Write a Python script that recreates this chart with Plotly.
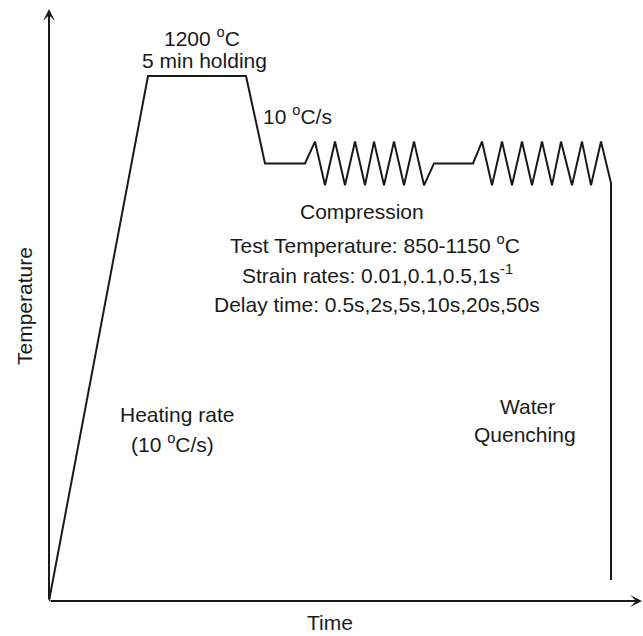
import plotly.graph_objects as go

# ---- data (arbitrary time units, temperature in degC) ----
time_pts = [0, 99, 197, 216, 256,
            266, 276, 286, 296, 306, 316, 325, 335, 345, 355, 365, 375,
            385, 424,
            433, 443, 453, 463, 473, 483, 493, 503, 512, 523, 533, 542, 552,
            562, 562]
temp_pts = [0, 1200, 1200, 1000, 1000,
            1050, 950, 1050, 950, 1050, 950, 1050, 950, 1050, 950, 1050, 950,
            1000, 1000,
            1050, 950, 1050, 950, 1050, 950, 1050, 950, 1050, 950, 1050, 950, 1050,
            955, 48]

x_max = 593
y_max = 1353

W, H = 643, 636
L, R, T, B = 49, 1, 9, 35
PW, PH = W - L - R, H - T - B

def px(x):
    return (x - L) / PW

def py(y):
    return (H - B - y) / PH

INK = "#1a1a1a"
FONT = "Liberation Sans, Arial, Helvetica, sans-serif"

fig = go.Figure()
fig.add_trace(go.Scatter(x=time_pts, y=temp_pts, mode="lines",
                         line=dict(color=INK, width=2),
                         cliponaxis=False, hoverinfo="skip", showlegend=False))

annotations = []
# axis arrows
annotations.append(dict(x=0, y=y_max, ax=0, ay=0, xref="x", yref="y", axref="x", ayref="y",
                        showarrow=True, arrowhead=3, arrowsize=1, arrowwidth=2,
                        arrowcolor=INK, text=""))
annotations.append(dict(x=x_max, y=0, ax=0, ay=0, xref="x", yref="y", axref="x", ayref="y",
                        showarrow=True, arrowhead=3, arrowsize=1, arrowwidth=2,
                        arrowcolor=INK, text=""))

def label(text, x, y, xanchor="center", angle=0):
    annotations.append(dict(text=text, x=px(x), y=py(y), xref="paper", yref="paper",
                            xanchor=xanchor, yanchor="middle", showarrow=False,
                            textangle=angle,
                            font=dict(family=FONT, size=21, color=INK)))

label("1200 <sup>o</sup>C", 202, 37)
label("5 min holding", 204, 60)
label("10 <sup>o</sup>C/s", 261, 115, xanchor="left")
label("Compression", 298, 211, xanchor="left")
label("Test Temperature: 850-1150 <sup>o</sup>C", 228, 244, xanchor="left")
label("Strain rates: 0.01,0.1,0.5,1s<sup>-1</sup>", 240, 274, xanchor="left")
label("Delay time: 0.5s,2s,5s,10s,20s,50s", 212, 304, xanchor="left")
label("Heating rate", 118, 415, xanchor="left")
label("(10 <sup>o</sup>C/s)", 172, 443)
label("Water", 498, 406, xanchor="left")
label("Quenching", 525, 434)
label("Temperature", 24, 306, angle=-90)
label("Time", 330, 623)

fig.update_layout(
    width=W, height=H,
    margin=dict(l=L, r=R, t=T, b=B, pad=0),
    paper_bgcolor="white", plot_bgcolor="white",
    xaxis=dict(range=[0, x_max], visible=False, fixedrange=True),
    yaxis=dict(range=[0, y_max], visible=False, fixedrange=True),
    annotations=annotations,
    showlegend=False,
)

fig.write_html("out.html")
